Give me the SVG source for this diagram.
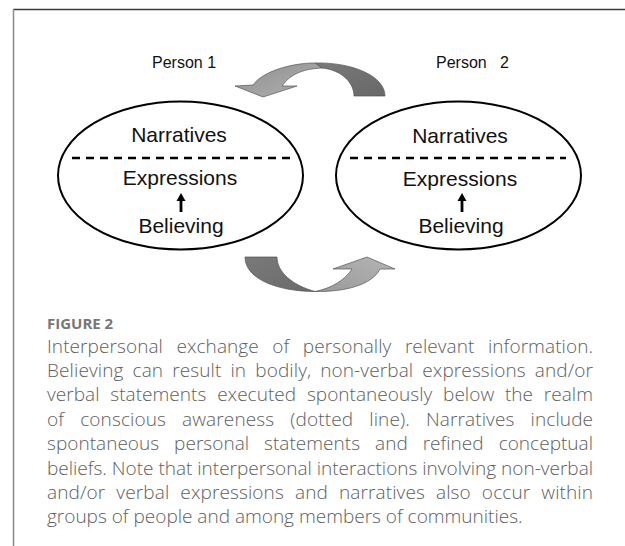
<svg xmlns="http://www.w3.org/2000/svg" width="625" height="546" viewBox="0 0 625 546">
<style>
.ell{fill:#fff;stroke:#000;stroke-width:2}
.dash{stroke:#000;stroke-width:2.5;stroke-dasharray:8 6;fill:none}
.lbl{font-family:"Liberation Sans",Arial,sans-serif;font-size:21px;fill:#111;text-anchor:middle}
.person{font-family:"Liberation Sans",Arial,sans-serif;font-size:16px;fill:#111}
.cap{font-family:"Open Sans","Noto Sans",sans-serif;font-size:19px;font-weight:300;fill:#5e5e5e}
.fig{font-family:"Open Sans","Noto Sans",sans-serif;font-size:15px;font-weight:bold;fill:#777}
.band{stroke:#555;stroke-width:0.7;stroke-linejoin:round}
</style>
<defs>
<linearGradient id="lightTop" x1="0" y1="0" x2="1" y2="1">
<stop offset="0" stop-color="#8e8e8e"/><stop offset="1" stop-color="#b2b2b2"/>
</linearGradient>
<linearGradient id="darkTop" x1="0" y1="0" x2="1" y2="1">
<stop offset="0" stop-color="#7a7a7a"/><stop offset="1" stop-color="#686868"/>
</linearGradient>
<linearGradient id="darkBot" x1="0" y1="0" x2="1" y2="1">
<stop offset="0" stop-color="#7a7a7a"/><stop offset="1" stop-color="#6a6a6a"/>
</linearGradient>
<linearGradient id="lightBot" x1="0" y1="1" x2="1" y2="0">
<stop offset="0" stop-color="#999"/><stop offset="1" stop-color="#b5b5b5"/>
</linearGradient>
</defs>

<g id="frame">
<line x1="13" y1="9.5" x2="625" y2="9.5" stroke="#3a3a3a" stroke-width="1.5"/>
<line x1="13.5" y1="9" x2="13.5" y2="546" stroke="#8a8a8a" stroke-width="1.5"/>
</g>

<g id="person1-label"><text class="person" x="152" y="68">Person 1</text></g>
<g id="person2-label"><text class="person" x="436" y="68" xml:space="preserve">Person   2</text></g>

<g id="person1">
<ellipse class="ell" cx="180.5" cy="175.5" rx="122.5" ry="74"/>
<line class="dash" x1="72" y1="158" x2="290" y2="158"/>
<text class="lbl" x="179" y="142">Narratives</text>
<text class="lbl" x="180" y="185">Expressions</text>
<text class="lbl" x="181" y="233">Believing</text>
</g>

<g id="person2">
<ellipse class="ell" cx="458.5" cy="175.5" rx="122.5" ry="74"/>
<line class="dash" x1="350" y1="158" x2="566" y2="158"/>
<text class="lbl" x="460" y="142.5">Narratives</text>
<text class="lbl" x="460" y="185.5">Expressions</text>
<text class="lbl" x="461" y="233">Believing</text>
</g>

<g id="connectors">
<g id="arrow-top">
<path class="band" fill="url(#darkTop)" d="M315,63 C352,62 385,76 385,96 L354,96 C354,83 342,70 322,68 Z"/>
<path class="band" fill="url(#lightTop)" d="M315,63 C290,63 262,72 253,85 L235,86 L263,97 L297,86 L282,86 C289,76 300,69 322,68 Z"/>
</g>
<g id="arrow-bottom">
<path class="band" fill="url(#darkBot)" d="M245,257 L277,257 C277,272 292,285 315,291.5 C280,291.5 245,280 245,257 Z"/>
<path class="band" fill="url(#lightBot)" d="M315,291.5 C345,292 372,285 380,269 L395,269 L367,257 L333,269 L352,269 C345,280 332,288 315,291.5 Z"/>
</g>
<g id="inner-arrow-1">
<rect x="179.6" y="199" width="2.8" height="13" fill="#000"/>
<path d="M181,193 L185.5,201 L176.5,201 Z" fill="#000"/>
</g>
<g id="inner-arrow-2">
<rect x="460.6" y="199" width="2.8" height="13" fill="#000"/>
<path d="M462,193 L466.5,201 L457.5,201 Z" fill="#000"/>
</g>
</g>

<g id="caption">
<text class="fig" x="47" y="329">FIGURE 2</text>
<text class="cap" x="47" y="352.5" word-spacing="8.5" textLength="546" lengthAdjust="spacing">Interpersonal exchange of personally relevant information.</text>
<text class="cap" x="47" y="377" word-spacing="4" textLength="546" lengthAdjust="spacing">Believing can result in bodily, non-verbal expressions and/or</text>
<text class="cap" x="47" y="401.3" word-spacing="5.8" textLength="546" lengthAdjust="spacing">verbal statements executed spontaneously below the realm</text>
<text class="cap" x="47" y="425.7" word-spacing="11" textLength="546" lengthAdjust="spacing">of conscious awareness (dotted line). Narratives include</text>
<text class="cap" x="47" y="450" word-spacing="10" textLength="546" lengthAdjust="spacing">spontaneous personal statements and refined conceptual</text>
<text class="cap" x="47" y="474.5" word-spacing="0" textLength="546" lengthAdjust="spacing">beliefs. Note that interpersonal interactions involving non-verbal</text>
<text class="cap" x="47" y="499" word-spacing="6" textLength="546" lengthAdjust="spacing">and/or verbal expressions and narratives also occur within</text>
<text class="cap" x="47" y="523.3">groups of people and among members of communities.</text>
</g>
</svg>
